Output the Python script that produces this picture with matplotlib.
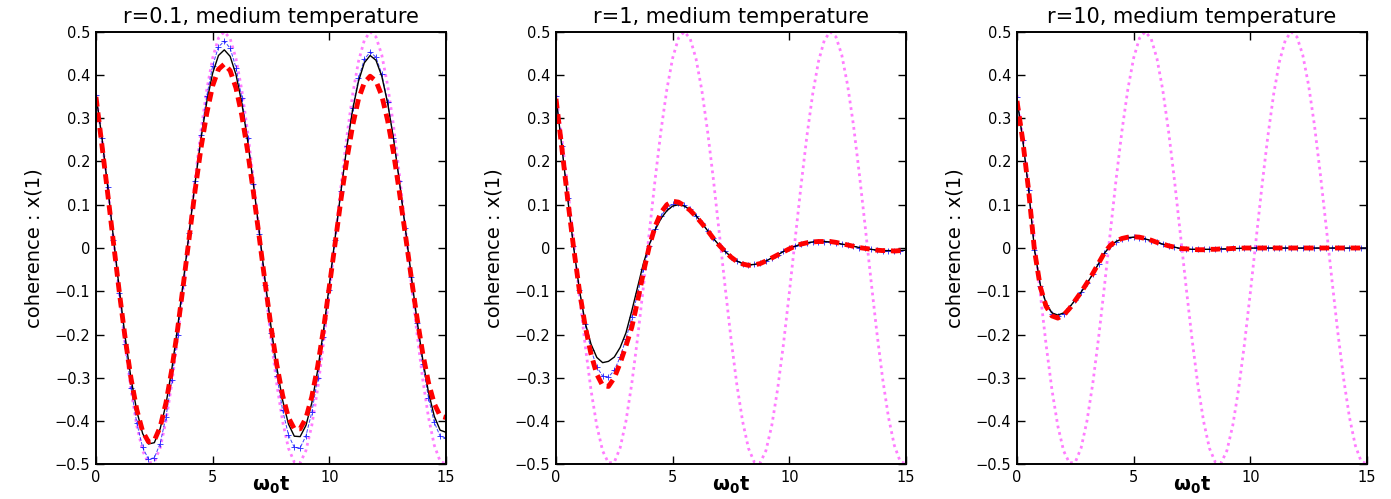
import matplotlib
matplotlib.use("Agg")
import matplotlib.pyplot as plt
import numpy as np

# time axis (omega_0 t), sampled every 0.25
t = np.linspace(0, 15, 61)

# free (undamped) oscillation, magenta dotted, same on all panels
free_osc = [0.354, 0.255, 0.141, 0.018, -0.106, -0.224, -0.328, -0.411, -0.469, -0.497,
            -0.495, -0.462, -0.400, -0.313, -0.207, -0.088, 0.036, 0.159, 0.271, 0.366,
            0.439, 0.485, 0.500, 0.484, 0.438, 0.365, 0.269, 0.157, 0.034, -0.090,
            -0.209, -0.315, -0.401, -0.463, -0.495, -0.497, -0.468, -0.410, -0.326, -0.222,
            -0.104, 0.020, 0.143, 0.257, 0.355, 0.431, 0.480, 0.500, 0.488, 0.446,
            0.376, 0.284, 0.172, 0.051, -0.074, -0.194, -0.302, -0.391, -0.456, -0.493,
            -0.499]

# r = 0.1
black_r01 = [0.354, 0.257, 0.143, 0.023, -0.095, -0.205, -0.301, -0.377, -0.429, -0.453,
             -0.450, -0.418, -0.361, -0.280, -0.183, -0.074, 0.039, 0.151, 0.252, 0.338,
             0.404, 0.445, 0.458, 0.443, 0.401, 0.335, 0.248, 0.147, 0.037, -0.075,
             -0.181, -0.276, -0.352, -0.407, -0.435, -0.436, -0.410, -0.358, -0.283, -0.191,
             -0.086, 0.024, 0.132, 0.233, 0.319, 0.385, 0.428, 0.445, 0.434, 0.397,
             0.335, 0.254, 0.156, 0.050, -0.058, -0.163, -0.256, -0.333, -0.389, -0.421,
             -0.426]
blue_r01 = [0.354, 0.255, 0.140, 0.018, -0.105, -0.222, -0.324, -0.405, -0.461, -0.488,
            -0.485, -0.452, -0.390, -0.305, -0.201, -0.085, 0.035, 0.154, 0.261, 0.352,
            0.421, 0.465, 0.478, 0.462, 0.417, 0.347, 0.255, 0.149, 0.032, -0.085,
            -0.196, -0.295, -0.375, -0.432, -0.461, -0.462, -0.434, -0.380, -0.301, -0.205,
            -0.096, 0.018, 0.131, 0.235, 0.324, 0.392, 0.436, 0.453, 0.441, 0.402,
            0.338, 0.255, 0.154, 0.046, -0.066, -0.173, -0.268, -0.346, -0.403, -0.435,
            -0.439]
red_r01 = [0.349, 0.240, 0.127, 0.012, -0.102, -0.208, -0.301, -0.374, -0.424, -0.448,
           -0.445, -0.414, -0.358, -0.281, -0.187, -0.082, 0.026, 0.134, 0.231, 0.312,
           0.375, 0.413, 0.425, 0.410, 0.370, 0.307, 0.224, 0.128, 0.024, -0.081,
           -0.181, -0.270, -0.341, -0.392, -0.418, -0.418, -0.393, -0.344, -0.274, -0.188,
           -0.090, 0.011, 0.112, 0.204, 0.283, 0.344, 0.382, 0.397, 0.386, 0.352,
           0.295, 0.221, 0.131, 0.035, -0.063, -0.158, -0.242, -0.311, -0.360, -0.388,
           -0.392]

# r = 1
black_r1 = [0.350, 0.235, 0.115, 0.005, -0.095, -0.172, -0.222, -0.253, -0.265, -0.262,
            -0.252, -0.230, -0.196, -0.145, -0.090, -0.035, 0.008, 0.042, 0.068, 0.086,
            0.097, 0.100, 0.097, 0.088, 0.075, 0.058, 0.040, 0.022, 0.006, -0.008,
            -0.020, -0.030, -0.036, -0.039, -0.038, -0.035, -0.030, -0.023, -0.016, -0.008,
            -0.001, 0.004, 0.009, 0.012, 0.014, 0.015, 0.015, 0.014, 0.012, 0.009,
            0.007, 0.004, 0.001, -0.001, -0.003, -0.005, -0.006, -0.006, -0.006, -0.006,
            -0.005]
blue_r1 = [0.352, 0.236, 0.116, 0.005, -0.096, -0.176, -0.235, -0.275, -0.296, -0.298,
           -0.283, -0.252, -0.210, -0.160, -0.105, -0.048, 0.004, 0.045, 0.074, 0.092,
           0.101, 0.103, 0.099, 0.089, 0.075, 0.058, 0.040, 0.022, 0.006, -0.008,
           -0.020, -0.030, -0.036, -0.039, -0.038, -0.035, -0.030, -0.023, -0.016, -0.008,
           -0.001, 0.004, 0.009, 0.012, 0.014, 0.015, 0.015, 0.014, 0.012, 0.009,
           0.007, 0.004, 0.001, -0.001, -0.003, -0.005, -0.006, -0.006, -0.006, -0.006,
           -0.005]
red_r1 = [0.345, 0.232, 0.113, 0.003, -0.097, -0.180, -0.245, -0.292, -0.318, -0.320,
          -0.300, -0.266, -0.226, -0.183, -0.122, -0.056, 0.004, 0.050, 0.082, 0.100,
          0.108, 0.106, 0.098, 0.087, 0.073, 0.057, 0.040, 0.022, 0.006, -0.008,
          -0.021, -0.031, -0.037, -0.040, -0.039, -0.036, -0.030, -0.023, -0.016, -0.009,
          -0.002, 0.004, 0.009, 0.012, 0.014, 0.015, 0.015, 0.015, 0.013, 0.010,
          0.007, 0.004, 0.001, -0.001, -0.003, -0.005, -0.006, -0.006, -0.007, -0.006,
          -0.006]

# r = 10
black_r10 = [0.345, 0.250, 0.135, -0.003, -0.085, -0.128, -0.150, -0.155, -0.150, -0.137,
             -0.120, -0.102, -0.082, -0.060, -0.036, -0.012, 0.005, 0.015, 0.021, 0.024,
             0.025, 0.024, 0.021, 0.017, 0.013, 0.009, 0.005, 0.002, -0.001, -0.002,
             -0.003, -0.003, -0.003, -0.003, -0.003, -0.002, -0.002, -0.001, -0.001, 0.000,
             0.000, 0.000, 0.000, 0.000, 0.000, 0.000, 0.000, 0.000, 0.000, 0.000,
             0.000, 0.000, 0.000, 0.000, 0.000, 0.000, 0.000, 0.000, 0.000, 0.000,
             0.000]
blue_r10 = [0.350, 0.250, 0.134, -0.004, -0.087, -0.131, -0.152, -0.157, -0.152, -0.138,
            -0.120, -0.102, -0.082, -0.060, -0.036, -0.012, 0.005, 0.015, 0.021, 0.024,
            0.025, 0.024, 0.021, 0.017, 0.013, 0.009, 0.005, 0.002, -0.001, -0.002,
            -0.003, -0.003, -0.003, -0.003, -0.003, -0.002, -0.002, -0.001, -0.001, 0.000,
            0.000, 0.000, 0.000, 0.000, 0.000, 0.000, 0.000, 0.000, 0.000, 0.000,
            0.000, 0.000, 0.000, 0.000, 0.000, 0.000, 0.000, 0.000, 0.000, 0.000,
            0.000]
red_r10 = [0.340, 0.248, 0.133, -0.005, -0.090, -0.135, -0.157, -0.162, -0.155, -0.140,
           -0.121, -0.102, -0.081, -0.059, -0.035, -0.011, 0.006, 0.016, 0.022, 0.025,
           0.026, 0.025, 0.022, 0.018, 0.013, 0.009, 0.005, 0.002, -0.001, -0.002,
           -0.003, -0.004, -0.004, -0.003, -0.003, -0.002, -0.002, -0.001, -0.001, 0.000,
           0.000, 0.000, 0.000, 0.000, 0.000, 0.000, 0.000, 0.000, 0.000, 0.000,
           0.000, 0.000, 0.000, 0.000, 0.000, 0.000, 0.000, 0.000, 0.000, 0.000,
           0.000]

titles = ["r=0.1, medium temperature", "r=1, medium temperature", "r=10, medium temperature"]
panels = [(black_r01, blue_r01, red_r01), (black_r1, blue_r1, red_r1), (black_r10, blue_r10, red_r10)]

xticks = [0, 5, 10, 15]
yticks = [-0.5, -0.4, -0.3, -0.2, -0.1, 0, 0.1, 0.2, 0.3, 0.4, 0.5]
ytick_labels = ["\u22120.5", "\u22120.4", "\u22120.3", "\u22120.2", "\u22120.1", "0",
                "0.1", "0.2", "0.3", "0.4", "0.5"]

lefts = [0.069, 0.3997, 0.7311]


def main():
    fig = plt.figure(figsize=(13.91, 4.99), dpi=100, facecolor="white")

    for i in range(3):
        black, blue, red = panels[i]
        ax = fig.add_axes([lefts[i], 0.0695, 0.2516, 0.867])

        ax.plot(t, free_osc, color="#ff44ff", linestyle=(0, (1, 1.4)), linewidth=2.0, alpha=0.7)
        ax.plot(t, blue, color="blue", linestyle="--", linewidth=0.7, alpha=0.75,
                marker="+", markersize=4, markeredgewidth=0.7)
        ax.plot(t, black, color="black", linestyle="-", linewidth=1.0)
        ax.plot(t, red, color="red", linestyle=(0, (2, 1.2)), linewidth=3.5)

        ax.set_xlim(0, 15)
        ax.set_ylim(-0.5, 0.5)
        ax.set_xticks(xticks)
        ax.set_yticks(yticks)
        ax.set_yticklabels(ytick_labels)
        ax.tick_params(direction="in", length=6, width=1, top=True, right=True,
                       labelsize=10.5, pad=4)
        for s in ax.spines.values():
            s.set_linewidth(1.4)

        ax.set_title(titles[i], fontsize=15, pad=6)
        ax.set_ylabel("coherence : x(1)", fontsize=14, labelpad=8)
        ax.set_xlabel(r"$\mathbf{\omega_0 t}$", fontsize=14, labelpad=-7)

    fig.savefig("out.png", dpi=100)


if __name__ == "__main__":
    main()
